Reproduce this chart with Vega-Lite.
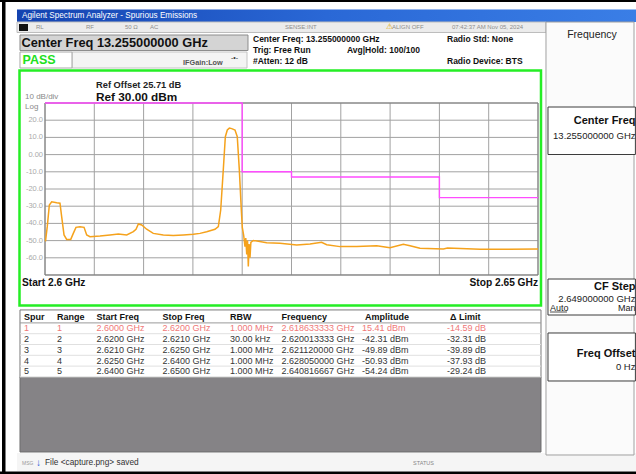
{
"$schema":"https://vega.github.io/schema/vega-lite/v6.json",
"width":636,"height":474,"autosize":{"type":"fit","contains":"padding"},"padding":0,
"background":"white",
"config":{"view":{"stroke":null},"axis":{"disable":true},"text":{"font":"Liberation Sans","align":"left","baseline":"middle"}},
"data":{"values":[{}]},
"datasets":{
"trace":[
{"f":2.60005,"v":-50.5},{"f":2.60023,"v":-41.9},{"f":2.60044,"v":-29.3},{"f":2.60068,"v":-27.4},{"f":2.60119,"v":-28.0},{"f":2.60152,"v":-28.3},{"f":2.60169,"v":-36.1},{"f":2.60193,"v":-46.7},{"f":2.6022,"v":-49.3},{"f":2.60261,"v":-49.3},{"f":2.60287,"v":-45.8},{"f":2.60314,"v":-42.3},{"f":2.60355,"v":-41.9},{"f":2.60396,"v":-42.3},{"f":2.60423,"v":-46.7},{"f":2.60456,"v":-47.7},{"f":2.60558,"v":-47.3},{"f":2.60659,"v":-46.7},{"f":2.60744,"v":-46.2},{"f":2.60829,"v":-46.7},{"f":2.60896,"v":-44.8},{"f":2.60923,"v":-43.4},{"f":2.60947,"v":-40.3},{"f":2.60981,"v":-40.9},{"f":2.61031,"v":-43.4},{"f":2.61098,"v":-45.8},{"f":2.612,"v":-46.7},{"f":2.61301,"v":-47.1},{"f":2.61403,"v":-46.7},{"f":2.61504,"v":-46.3},{"f":2.61572,"v":-45.8},{"f":2.6164,"v":-44.8},{"f":2.61724,"v":-43.4},{"f":2.61758,"v":-41.9},{"f":2.61782,"v":-32.2},{"f":2.61808,"v":-9.0},{"f":2.61829,"v":10.4},{"f":2.61849,"v":14.3},{"f":2.6187,"v":15.4},{"f":2.61894,"v":15.1},{"f":2.61927,"v":14.3},{"f":2.6195,"v":10.4},{"f":2.61971,"v":-9.0},{"f":2.61991,"v":-32.2},{"f":2.62001,"v":-42.3},{"f":2.62015,"v":-47.0},{"f":2.62028,"v":-53.5},{"f":2.62036,"v":-48.5},{"f":2.62046,"v":-58.0},{"f":2.62054,"v":-50.0},{"f":2.62062,"v":-65.0},{"f":2.6207,"v":-52.0},{"f":2.62079,"v":-60.0},{"f":2.62088,"v":-51.0},{"f":2.62112,"v":-49.9},{"f":2.62248,"v":-51.2},{"f":2.62383,"v":-51.6},{"f":2.62553,"v":-52.6},{"f":2.62688,"v":-52.0},{"f":2.62805,"v":-51.0},{"f":2.62857,"v":-52.4},{"f":2.62992,"v":-53.5},{"f":2.63161,"v":-53.5},{"f":2.63364,"v":-53.0},{"f":2.63499,"v":-54.1},{"f":2.63634,"v":-52.2},{"f":2.63702,"v":-53.0},{"f":2.63803,"v":-54.5},{"f":2.6404,"v":-54.9},{"f":2.64082,"v":-54.3},{"f":2.64412,"v":-55.1},{"f":2.647,"v":-55.0},{"f":2.65,"v":-54.9}
],
"spurs":[
{"spur":1,"range":1,"start":2.6,"stop":2.62,"rbw":"1.000 MHz","freq":2.618633333,"amp":15.41,"dlimit":-14.59,"limit":30},
{"spur":2,"range":2,"start":2.62,"stop":2.621,"rbw":"30.00 kHz","freq":2.620013333,"amp":-42.31,"dlimit":-32.31,"limit":-10},
{"spur":3,"range":3,"start":2.621,"stop":2.625,"rbw":"1.000 MHz","freq":2.62112,"amp":-49.89,"dlimit":-39.89,"limit":-10},
{"spur":4,"range":4,"start":2.625,"stop":2.64,"rbw":"1.000 MHz","freq":2.62805,"amp":-50.93,"dlimit":-37.93,"limit":-13},
{"spur":5,"range":5,"start":2.64,"stop":2.65,"rbw":"1.000 MHz","freq":2.640816667,"amp":-54.24,"dlimit":-29.24,"limit":-25}
],
"xgrid":[{"g":2.6},{"g":2.605},{"g":2.61},{"g":2.615},{"g":2.62},{"g":2.625},{"g":2.63},{"g":2.635},{"g":2.64},{"g":2.645},{"g":2.65}],
"ygrid":[{"v":30,"t":""},{"v":20,"t":"20.0"},{"v":10,"t":"10.0"},{"v":0,"t":"0.00"},{"v":-10,"t":"-10.0"},{"v":-20,"t":"-20.0"},{"v":-30,"t":"-30.0"},{"v":-40,"t":"-40.0"},{"v":-50,"t":"-50.0"},{"v":-60,"t":"-60.0"},{"v":-70,"t":""}]
},
"resolve":{"scale":{"y":"independent"}},
"layer":[
{"layer":[
{"mark":{"type":"rect","fill":"#000"},"encoding":{"x":{"datum":2.595639,"type":"quantitative","scale":{"domain":[2.595436,2.659939],"nice":false,"zero":false}},"x2":{"datum":2.595994},"y":{"datum":89.884,"type":"quantitative","scale":{"domain":[-185.698,89.884],"nice":false,"zero":false}},"y2":{"datum":-185.698}}},
{"mark":{"type":"rect","fill":"#000"},"encoding":{"x":{"datum":2.595436,"type":"quantitative","scale":{"domain":[2.595436,2.659939],"nice":false,"zero":false}},"x2":{"datum":2.659939},"y":{"datum":89.884,"type":"quantitative","scale":{"domain":[-185.698,89.884],"nice":false,"zero":false}},"y2":{"datum":88.721}}},
{"mark":{"type":"rect","fill":"#000"},"encoding":{"x":{"datum":2.595436,"type":"quantitative","scale":{"domain":[2.595436,2.659939],"nice":false,"zero":false}},"x2":{"datum":2.659939},"y":{"datum":-184.244,"type":"quantitative","scale":{"domain":[-185.698,89.884],"nice":false,"zero":false}},"y2":{"datum":-185.698}}},
{"mark":{"type":"rect","fill":{"gradient":"linear","x1":0,"y1":0,"x2":1,"y2":0,"stops":[{"offset":0,"color":"#1443b0"},{"offset":0.5,"color":"#2a68d6"},{"offset":1,"color":"#3a7ee6"}]}},"encoding":{"x":{"datum":2.59716,"type":"quantitative","scale":{"domain":[2.595436,2.659939],"nice":false,"zero":false}},"x2":{"datum":2.659939},"y":{"datum":84.361,"type":"quantitative","scale":{"domain":[-185.698,89.884],"nice":false,"zero":false}},"y2":{"datum":77.093}}},
{"mark":{"type":"rect","fill":"#ececec","stroke":"#bdbdbd","strokeWidth":1},"encoding":{"x":{"datum":2.59716,"type":"quantitative","scale":{"domain":[2.595436,2.659939],"nice":false,"zero":false}},"x2":{"datum":2.650811},"y":{"datum":77.093,"type":"quantitative","scale":{"domain":[-185.698,89.884],"nice":false,"zero":false}},"y2":{"datum":70.989}}},
{"mark":{"type":"rect","fill":"#111"},"encoding":{"x":{"datum":2.597363,"type":"quantitative","scale":{"domain":[2.595436,2.659939],"nice":false,"zero":false}},"x2":{"datum":2.598276},"y":{"datum":75.93,"type":"quantitative","scale":{"domain":[-185.698,89.884],"nice":false,"zero":false}},"y2":{"datum":71.861}}},
{"mark":{"type":"rect","fill":"#d4d4d4","stroke":"#8c8c8c","strokeWidth":1},"encoding":{"x":{"datum":2.597464,"type":"quantitative","scale":{"domain":[2.595436,2.659939],"nice":false,"zero":false}},"x2":{"datum":2.620588},"y":{"datum":69.535,"type":"quantitative","scale":{"domain":[-185.698,89.884],"nice":false,"zero":false}},"y2":{"datum":60.524}}},
{"mark":{"type":"rect","fill":"#f4f4f4","stroke":"#c4c4c4","strokeWidth":1},"encoding":{"x":{"datum":2.602738,"type":"quantitative","scale":{"domain":[2.595436,2.659939],"nice":false,"zero":false}},"x2":{"datum":2.620487},"y":{"datum":59.651,"type":"quantitative","scale":{"domain":[-185.698,89.884],"nice":false,"zero":false}},"y2":{"datum":50.349}}},
{"mark":{"type":"rect","fill":"#ffffff","stroke":"#a8a8a8","strokeWidth":1},"encoding":{"x":{"datum":2.597464,"type":"quantitative","scale":{"domain":[2.595436,2.659939],"nice":false,"zero":false}},"x2":{"datum":2.602738},"y":{"datum":59.651,"type":"quantitative","scale":{"domain":[-185.698,89.884],"nice":false,"zero":false}},"y2":{"datum":50.349}}},
{"mark":{"type":"rect","fill":"#ffffff","stroke":"#25ee25","strokeWidth":2.5},"encoding":{"x":{"datum":2.597414,"type":"quantitative","scale":{"domain":[2.595436,2.659939],"nice":false,"zero":false}},"x2":{"datum":2.650304},"y":{"datum":48.895,"type":"quantitative","scale":{"domain":[-185.698,89.884],"nice":false,"zero":false}},"y2":{"datum":-87.733}}},
{"mark":{"type":"rect","fill":"#858386","stroke":"#6d6d6d","strokeWidth":1},"encoding":{"x":{"datum":2.597464,"type":"quantitative","scale":{"domain":[2.595436,2.659939],"nice":false,"zero":false}},"x2":{"datum":2.650304},"y":{"datum":-129.302,"type":"quantitative","scale":{"domain":[-185.698,89.884],"nice":false,"zero":false}},"y2":{"datum":-172.907}}},
{"mark":{"type":"rect","fill":"#f5f5f5"},"encoding":{"x":{"datum":2.59716,"type":"quantitative","scale":{"domain":[2.595436,2.659939],"nice":false,"zero":false}},"x2":{"datum":2.659939},"y":{"datum":-173.488,"type":"quantitative","scale":{"domain":[-185.698,89.884],"nice":false,"zero":false}},"y2":{"datum":-183.953}}},
{"mark":{"type":"rect","fill":"#fbfbfb","stroke":"#a0a0a0","strokeWidth":1},"encoding":{"x":{"datum":2.650811,"type":"quantitative","scale":{"domain":[2.595436,2.659939],"nice":false,"zero":false}},"x2":{"datum":2.659737},"y":{"datum":77.093,"type":"quantitative","scale":{"domain":[-185.698,89.884],"nice":false,"zero":false}},"y2":{"datum":-174.651}}},
{"mark":{"type":"rect","fill":"#ffffff","stroke":"#3c3c3c","strokeWidth":1},"encoding":{"x":{"datum":2.651014,"type":"quantitative","scale":{"domain":[2.595436,2.659939],"nice":false,"zero":false}},"x2":{"datum":2.659878},"y":{"datum":27.674,"type":"quantitative","scale":{"domain":[-185.698,89.884],"nice":false,"zero":false}},"y2":{"datum":0.058}}},
{"mark":{"type":"rect","fill":"#ffffff","stroke":"#3c3c3c","strokeWidth":1},"encoding":{"x":{"datum":2.651014,"type":"quantitative","scale":{"domain":[2.595436,2.659939],"nice":false,"zero":false}},"x2":{"datum":2.659878},"y":{"datum":-72.326,"type":"quantitative","scale":{"domain":[-185.698,89.884],"nice":false,"zero":false}},"y2":{"datum":-93.256}}},
{"mark":{"type":"rect","fill":"#ffffff","stroke":"#3c3c3c","strokeWidth":1},"encoding":{"x":{"datum":2.651014,"type":"quantitative","scale":{"domain":[2.595436,2.659939],"nice":false,"zero":false}},"x2":{"datum":2.659878},"y":{"datum":-103.721,"type":"quantitative","scale":{"domain":[-185.698,89.884],"nice":false,"zero":false}},"y2":{"datum":-131.628}}},
{"data":{"name":"xgrid"},"mark":{"type":"rule","color":"#a2a2a2","strokeWidth":1},"encoding":{"x":{"field":"g","type":"quantitative","scale":{"domain":[2.595436,2.659939],"nice":false,"zero":false}},"y":{"datum":-70,"type":"quantitative","scale":{"domain":[-185.698,89.884],"nice":false,"zero":false}},"y2":{"datum":30}}},
{"data":{"name":"ygrid"},"mark":{"type":"rule","color":"#a2a2a2","strokeWidth":1},"encoding":{"y":{"field":"v","type":"quantitative","scale":{"domain":[-185.698,89.884],"nice":false,"zero":false}},"x":{"datum":2.6,"type":"quantitative","scale":{"domain":[2.595436,2.659939],"nice":false,"zero":false}},"x2":{"datum":2.65}}},
{"mark":{"type":"rect","fillOpacity":0,"stroke":"#7a7a7a","strokeWidth":1},"encoding":{"x":{"datum":2.6,"type":"quantitative","scale":{"domain":[2.595436,2.659939],"nice":false,"zero":false}},"x2":{"datum":2.65},"y":{"datum":30,"type":"quantitative","scale":{"domain":[-185.698,89.884],"nice":false,"zero":false}},"y2":{"datum":-70}}},
{"data":{"name":"ygrid"},"transform":[{"filter":"datum.t != ''"}],"mark":{"type":"text","align":"right","fontSize":7.5,"color":"#aaaaaa"},"encoding":{"y":{"field":"v","type":"quantitative","scale":{"domain":[-185.698,89.884],"nice":false,"zero":false}},"x":{"datum":2.599797,"type":"quantitative","scale":{"domain":[2.595436,2.659939],"nice":false,"zero":false}},"text":{"field":"t","type":"nominal"}}},
{"data":{"name":"spurs"},"transform":[{"fold":["start","stop"],"as":["edge","f"]}],"mark":{"type":"line","color":"#ff4cff","strokeWidth":1.4},"encoding":{"x":{"field":"f","type":"quantitative","scale":{"domain":[2.595436,2.659939],"nice":false,"zero":false}},"y":{"field":"limit","type":"quantitative","scale":{"domain":[-185.698,89.884],"nice":false,"zero":false}},"order":[{"field":"range","type":"quantitative"},{"field":"edge","type":"nominal"}]}},
{"data":{"name":"trace"},"mark":{"type":"line","color":"#f5a21c","strokeWidth":1.5},"encoding":{"x":{"field":"f","type":"quantitative","scale":{"domain":[2.595436,2.659939],"nice":false,"zero":false}},"y":{"field":"v","type":"quantitative","scale":{"domain":[-185.698,89.884],"nice":false,"zero":false}}}},
{"mark":{"type":"text","text":"Agilent Spectrum Analyzer - Spurious Emissions","fontSize":8.2,"color":"#ffffff"},"encoding":{"x":{"datum":2.597667,"type":"quantitative","scale":{"domain":[2.595436,2.659939],"nice":false,"zero":false}},"y":{"datum":80.582,"type":"quantitative","scale":{"domain":[-185.698,89.884],"nice":false,"zero":false}}}},
{"mark":{"type":"text","text":"RL","fontSize":6,"color":"#8d8d8d"},"encoding":{"x":{"datum":2.599087,"type":"quantitative","scale":{"domain":[2.595436,2.659939],"nice":false,"zero":false}},"y":{"datum":73.896,"type":"quantitative","scale":{"domain":[-185.698,89.884],"nice":false,"zero":false}}}},
{"mark":{"type":"text","text":"RF","fontSize":6,"color":"#8d8d8d"},"encoding":{"x":{"datum":2.604158,"type":"quantitative","scale":{"domain":[2.595436,2.659939],"nice":false,"zero":false}},"y":{"datum":73.896,"type":"quantitative","scale":{"domain":[-185.698,89.884],"nice":false,"zero":false}}}},
{"mark":{"type":"text","text":"50 Ω","fontSize":6,"color":"#8d8d8d"},"encoding":{"x":{"datum":2.608114,"type":"quantitative","scale":{"domain":[2.595436,2.659939],"nice":false,"zero":false}},"y":{"datum":73.896,"type":"quantitative","scale":{"domain":[-185.698,89.884],"nice":false,"zero":false}}}},
{"mark":{"type":"text","text":"AC","fontSize":6,"color":"#8d8d8d"},"encoding":{"x":{"datum":2.610649,"type":"quantitative","scale":{"domain":[2.595436,2.659939],"nice":false,"zero":false}},"y":{"datum":73.896,"type":"quantitative","scale":{"domain":[-185.698,89.884],"nice":false,"zero":false}}}},
{"mark":{"type":"text","text":"SENSE:INT","fontSize":6,"color":"#8d8d8d"},"encoding":{"x":{"datum":2.624341,"type":"quantitative","scale":{"domain":[2.595436,2.659939],"nice":false,"zero":false}},"y":{"datum":73.896,"type":"quantitative","scale":{"domain":[-185.698,89.884],"nice":false,"zero":false}}}},
{"mark":{"type":"text","text":"⚠","fontSize":8,"color":"#e0a800"},"encoding":{"x":{"datum":2.634584,"type":"quantitative","scale":{"domain":[2.595436,2.659939],"nice":false,"zero":false}},"y":{"datum":73.896,"type":"quantitative","scale":{"domain":[-185.698,89.884],"nice":false,"zero":false}}}},
{"mark":{"type":"text","text":"ALIGN OFF","fontSize":6,"color":"#8d8d8d"},"encoding":{"x":{"datum":2.635193,"type":"quantitative","scale":{"domain":[2.595436,2.659939],"nice":false,"zero":false}},"y":{"datum":73.896,"type":"quantitative","scale":{"domain":[-185.698,89.884],"nice":false,"zero":false}}}},
{"mark":{"type":"text","text":"07:42:37 AM Nov 05, 2024","fontSize":6,"color":"#8d8d8d"},"encoding":{"x":{"datum":2.641278,"type":"quantitative","scale":{"domain":[2.595436,2.659939],"nice":false,"zero":false}},"y":{"datum":73.896,"type":"quantitative","scale":{"domain":[-185.698,89.884],"nice":false,"zero":false}}}},
{"mark":{"type":"text","text":"Center Freq 13.255000000 GHz","fontSize":12.8,"fontWeight":"bold","color":"#111111"},"encoding":{"x":{"datum":2.597617,"type":"quantitative","scale":{"domain":[2.595436,2.659939],"nice":false,"zero":false}},"y":{"datum":64.884,"type":"quantitative","scale":{"domain":[-185.698,89.884],"nice":false,"zero":false}}}},
{"mark":{"type":"text","text":"PASS","fontSize":12.5,"fontWeight":"bold","color":"#21e021"},"encoding":{"x":{"datum":2.597718,"type":"quantitative","scale":{"domain":[2.595436,2.659939],"nice":false,"zero":false}},"y":{"datum":55.0,"type":"quantitative","scale":{"domain":[-185.698,89.884],"nice":false,"zero":false}}}},
{"mark":{"type":"text","text":"IFGain:Low","fontSize":7.3,"fontWeight":"bold","color":"#555555"},"encoding":{"x":{"datum":2.613996,"type":"quantitative","scale":{"domain":[2.595436,2.659939],"nice":false,"zero":false}},"y":{"datum":53.256,"type":"quantitative","scale":{"domain":[-185.698,89.884],"nice":false,"zero":false}}}},
{"mark":{"type":"text","text":"-•-","fontSize":7,"color":"#333333"},"encoding":{"x":{"datum":2.618864,"type":"quantitative","scale":{"domain":[2.595436,2.659939],"nice":false,"zero":false}},"y":{"datum":56.163,"type":"quantitative","scale":{"domain":[-185.698,89.884],"nice":false,"zero":false}}}},
{"mark":{"type":"text","text":"Center Freq: 13.255000000 GHz","fontSize":8.5,"fontWeight":"bold","color":"#111111"},"encoding":{"x":{"datum":2.621095,"type":"quantitative","scale":{"domain":[2.595436,2.659939],"nice":false,"zero":false}},"y":{"datum":67.209,"type":"quantitative","scale":{"domain":[-185.698,89.884],"nice":false,"zero":false}}}},
{"mark":{"type":"text","text":"Trig: Free Run","fontSize":8.5,"fontWeight":"bold","color":"#111111"},"encoding":{"x":{"datum":2.621095,"type":"quantitative","scale":{"domain":[2.595436,2.659939],"nice":false,"zero":false}},"y":{"datum":60.814,"type":"quantitative","scale":{"domain":[-185.698,89.884],"nice":false,"zero":false}}}},
{"mark":{"type":"text","text":"#Atten: 12 dB","fontSize":8.5,"fontWeight":"bold","color":"#111111"},"encoding":{"x":{"datum":2.621095,"type":"quantitative","scale":{"domain":[2.595436,2.659939],"nice":false,"zero":false}},"y":{"datum":54.419,"type":"quantitative","scale":{"domain":[-185.698,89.884],"nice":false,"zero":false}}}},
{"mark":{"type":"text","text":"Avg|Hold: 100/100","fontSize":8.5,"fontWeight":"bold","color":"#111111"},"encoding":{"x":{"datum":2.630629,"type":"quantitative","scale":{"domain":[2.595436,2.659939],"nice":false,"zero":false}},"y":{"datum":60.814,"type":"quantitative","scale":{"domain":[-185.698,89.884],"nice":false,"zero":false}}}},
{"mark":{"type":"text","text":"Radio Std: None","fontSize":8.5,"fontWeight":"bold","color":"#111111"},"encoding":{"x":{"datum":2.640771,"type":"quantitative","scale":{"domain":[2.595436,2.659939],"nice":false,"zero":false}},"y":{"datum":67.209,"type":"quantitative","scale":{"domain":[-185.698,89.884],"nice":false,"zero":false}}}},
{"mark":{"type":"text","text":"Radio Device: BTS","fontSize":8.5,"fontWeight":"bold","color":"#111111"},"encoding":{"x":{"datum":2.640771,"type":"quantitative","scale":{"domain":[2.595436,2.659939],"nice":false,"zero":false}},"y":{"datum":54.419,"type":"quantitative","scale":{"domain":[-185.698,89.884],"nice":false,"zero":false}}}},
{"mark":{"type":"text","text":"Ref Offset 25.71 dB","fontSize":9.3,"fontWeight":"bold","color":"#222222"},"encoding":{"x":{"datum":2.605172,"type":"quantitative","scale":{"domain":[2.595436,2.659939],"nice":false,"zero":false}},"y":{"datum":40.465,"type":"quantitative","scale":{"domain":[-185.698,89.884],"nice":false,"zero":false}}}},
{"mark":{"type":"text","text":"Ref 30.00 dBm","fontSize":11.8,"fontWeight":"bold","color":"#111111"},"encoding":{"x":{"datum":2.605172,"type":"quantitative","scale":{"domain":[2.595436,2.659939],"nice":false,"zero":false}},"y":{"datum":33.488,"type":"quantitative","scale":{"domain":[-185.698,89.884],"nice":false,"zero":false}}}},
{"mark":{"type":"text","text":"10 dB/div","fontSize":8,"color":"#8a8a8a"},"encoding":{"x":{"datum":2.597972,"type":"quantitative","scale":{"domain":[2.595436,2.659939],"nice":false,"zero":false}},"y":{"datum":33.198,"type":"quantitative","scale":{"domain":[-185.698,89.884],"nice":false,"zero":false}}}},
{"mark":{"type":"text","text":"Log","fontSize":8,"color":"#8a8a8a"},"encoding":{"x":{"datum":2.597972,"type":"quantitative","scale":{"domain":[2.595436,2.659939],"nice":false,"zero":false}},"y":{"datum":27.965,"type":"quantitative","scale":{"domain":[-185.698,89.884],"nice":false,"zero":false}}}},
{"mark":{"type":"text","text":"Start 2.6 GHz","fontSize":10.2,"fontWeight":"bold","color":"#111111"},"encoding":{"x":{"datum":2.597667,"type":"quantitative","scale":{"domain":[2.595436,2.659939],"nice":false,"zero":false}},"y":{"datum":-74.651,"type":"quantitative","scale":{"domain":[-185.698,89.884],"nice":false,"zero":false}}}},
{"mark":{"type":"text","text":"Stop 2.65 GHz","align":"right","fontSize":10.2,"fontWeight":"bold","color":"#111111"},"encoding":{"x":{"datum":2.65,"type":"quantitative","scale":{"domain":[2.595436,2.659939],"nice":false,"zero":false}},"y":{"datum":-74.651,"type":"quantitative","scale":{"domain":[-185.698,89.884],"nice":false,"zero":false}}}},
{"mark":{"type":"text","text":"MSG","fontSize":5,"color":"#999999"},"encoding":{"x":{"datum":2.597667,"type":"quantitative","scale":{"domain":[2.595436,2.659939],"nice":false,"zero":false}},"y":{"datum":-179.302,"type":"quantitative","scale":{"domain":[-185.698,89.884],"nice":false,"zero":false}}}},
{"mark":{"type":"text","text":"↓","fontSize":10,"fontWeight":"bold","color":"#2d62d8"},"encoding":{"x":{"datum":2.599087,"type":"quantitative","scale":{"domain":[2.595436,2.659939],"nice":false,"zero":false}},"y":{"datum":-179.302,"type":"quantitative","scale":{"domain":[-185.698,89.884],"nice":false,"zero":false}}}},
{"mark":{"type":"text","text":"File <capture.png> saved","fontSize":8.3,"color":"#333333"},"encoding":{"x":{"datum":2.6,"type":"quantitative","scale":{"domain":[2.595436,2.659939],"nice":false,"zero":false}},"y":{"datum":-179.302,"type":"quantitative","scale":{"domain":[-185.698,89.884],"nice":false,"zero":false}}}},
{"mark":{"type":"text","text":"STATUS","fontSize":5.5,"color":"#888888"},"encoding":{"x":{"datum":2.637323,"type":"quantitative","scale":{"domain":[2.595436,2.659939],"nice":false,"zero":false}},"y":{"datum":-179.302,"type":"quantitative","scale":{"domain":[-185.698,89.884],"nice":false,"zero":false}}}},
{"mark":{"type":"text","text":"Frequency","align":"center","fontSize":10.5,"color":"#222222"},"encoding":{"x":{"datum":2.655477,"type":"quantitative","scale":{"domain":[2.595436,2.659939],"nice":false,"zero":false}},"y":{"datum":69.535,"type":"quantitative","scale":{"domain":[-185.698,89.884],"nice":false,"zero":false}}}},
{"mark":{"type":"text","text":"Center Freq","align":"right","fontSize":11,"fontWeight":"bold","color":"#111111"},"encoding":{"x":{"datum":2.659888,"type":"quantitative","scale":{"domain":[2.595436,2.659939],"nice":false,"zero":false}},"y":{"datum":19.535,"type":"quantitative","scale":{"domain":[-185.698,89.884],"nice":false,"zero":false}}}},
{"mark":{"type":"text","text":"13.255000000 GHz","align":"right","fontSize":9.5,"color":"#222222"},"encoding":{"x":{"datum":2.659888,"type":"quantitative","scale":{"domain":[2.595436,2.659939],"nice":false,"zero":false}},"y":{"datum":10.814,"type":"quantitative","scale":{"domain":[-185.698,89.884],"nice":false,"zero":false}}}},
{"mark":{"type":"text","text":"CF Step","align":"right","fontSize":11,"fontWeight":"bold","color":"#111111"},"encoding":{"x":{"datum":2.659888,"type":"quantitative","scale":{"domain":[2.595436,2.659939],"nice":false,"zero":false}},"y":{"datum":-76.976,"type":"quantitative","scale":{"domain":[-185.698,89.884],"nice":false,"zero":false}}}},
{"mark":{"type":"text","text":"2.649000000 GHz","align":"right","fontSize":9.5,"color":"#222222"},"encoding":{"x":{"datum":2.659888,"type":"quantitative","scale":{"domain":[2.595436,2.659939],"nice":false,"zero":false}},"y":{"datum":-83.953,"type":"quantitative","scale":{"domain":[-185.698,89.884],"nice":false,"zero":false}}}},
{"mark":{"type":"text","text":"Auto","fontSize":9,"color":"#222222"},"encoding":{"x":{"datum":2.651217,"type":"quantitative","scale":{"domain":[2.595436,2.659939],"nice":false,"zero":false}},"y":{"datum":-89.186,"type":"quantitative","scale":{"domain":[-185.698,89.884],"nice":false,"zero":false}}}},
{"mark":{"type":"rule","color":"#222222","strokeWidth":0.8},"encoding":{"x":{"datum":2.651217,"type":"quantitative","scale":{"domain":[2.595436,2.659939],"nice":false,"zero":false}},"x2":{"datum":2.652941},"y":{"datum":-91.512,"type":"quantitative","scale":{"domain":[-185.698,89.884],"nice":false,"zero":false}}}},
{"mark":{"type":"text","text":"Man","align":"right","fontSize":9,"color":"#222222"},"encoding":{"x":{"datum":2.659888,"type":"quantitative","scale":{"domain":[2.595436,2.659939],"nice":false,"zero":false}},"y":{"datum":-89.186,"type":"quantitative","scale":{"domain":[-185.698,89.884],"nice":false,"zero":false}}}},
{"mark":{"type":"text","text":"Freq Offset","align":"right","fontSize":11,"fontWeight":"bold","color":"#111111"},"encoding":{"x":{"datum":2.659888,"type":"quantitative","scale":{"domain":[2.595436,2.659939],"nice":false,"zero":false}},"y":{"datum":-115.93,"type":"quantitative","scale":{"domain":[-185.698,89.884],"nice":false,"zero":false}}}},
{"mark":{"type":"text","text":"0 Hz","align":"right","fontSize":9.5,"color":"#222222"},"encoding":{"x":{"datum":2.659888,"type":"quantitative","scale":{"domain":[2.595436,2.659939],"nice":false,"zero":false}},"y":{"datum":-123.488,"type":"quantitative","scale":{"domain":[-185.698,89.884],"nice":false,"zero":false}}}}
]},
{"data":{"name":"spurs"},
 "transform":[
  {"calculate":"format(datum.start, '.4f') + ' GHz'","as":"sLabel"},
  {"calculate":"format(datum.stop, '.4f') + ' GHz'","as":"eLabel"},
  {"calculate":"format(datum.freq, '.9f') + ' GHz'","as":"fLabel"},
  {"calculate":"(datum.amp < 0 ? '-' : '') + format(abs(datum.amp), '.2f') + ' dBm'","as":"aLabel"},
  {"calculate":"(datum.dlimit < 0 ? '-' : '') + format(abs(datum.dlimit), '.2f') + ' dB'","as":"dLabel"}
 ],
 "layer":[
{"data":{"values":[{}]},"mark":{"type":"rect","fill":"#ffffff","stroke":"#7a7a7a","strokeWidth":1},"encoding":{"x":{"datum":2.597464,"type":"quantitative","scale":{"domain":[2.595436,2.659939],"nice":false,"zero":false}},"x2":{"datum":2.650304},"y":{"datum":-0.7,"type":"quantitative","scale":{"domain":[-29.398,14.491],"reverse":true,"nice":false,"zero":false}},"y2":{"datum":5.55}}},
{"data":{"values":[{}]},"mark":{"type":"rule","color":"#9a9a9a","strokeWidth":1},"encoding":{"x":{"datum":2.597464,"type":"quantitative","scale":{"domain":[2.595436,2.659939],"nice":false,"zero":false}},"x2":{"datum":2.650304},"y":{"datum":0.5,"type":"quantitative","scale":{"domain":[-29.398,14.491],"reverse":true,"nice":false,"zero":false}}}},
{"mark":{"type":"rule","color":"#e0e0e0","strokeWidth":1,"yOffset":5.4},"encoding":{"x":{"datum":2.597464,"type":"quantitative","scale":{"domain":[2.595436,2.659939],"nice":false,"zero":false}},"x2":{"datum":2.650304},"y":{"field":"spur","type":"quantitative","scale":{"domain":[-29.398,14.491],"reverse":true,"nice":false,"zero":false}}}},
{"data":{"values":[{}]},"mark":{"type":"text","text":"Spur","fontSize":9,"fontWeight":"bold","color":"#111111"},"encoding":{"x":{"datum":2.59787,"type":"quantitative","scale":{"domain":[2.595436,2.659939],"nice":false,"zero":false}},"y":{"datum":0,"type":"quantitative","scale":{"domain":[-29.398,14.491],"reverse":true,"nice":false,"zero":false}}}},
{"data":{"values":[{}]},"mark":{"type":"text","text":"Range","fontSize":9,"fontWeight":"bold","color":"#111111"},"encoding":{"x":{"datum":2.601217,"type":"quantitative","scale":{"domain":[2.595436,2.659939],"nice":false,"zero":false}},"y":{"datum":0,"type":"quantitative","scale":{"domain":[-29.398,14.491],"reverse":true,"nice":false,"zero":false}}}},
{"data":{"values":[{}]},"mark":{"type":"text","text":"Start Freq","fontSize":9,"fontWeight":"bold","color":"#111111"},"encoding":{"x":{"datum":2.605223,"type":"quantitative","scale":{"domain":[2.595436,2.659939],"nice":false,"zero":false}},"y":{"datum":0,"type":"quantitative","scale":{"domain":[-29.398,14.491],"reverse":true,"nice":false,"zero":false}}}},
{"data":{"values":[{}]},"mark":{"type":"text","text":"Stop Freq","fontSize":9,"fontWeight":"bold","color":"#111111"},"encoding":{"x":{"datum":2.611917,"type":"quantitative","scale":{"domain":[2.595436,2.659939],"nice":false,"zero":false}},"y":{"datum":0,"type":"quantitative","scale":{"domain":[-29.398,14.491],"reverse":true,"nice":false,"zero":false}}}},
{"data":{"values":[{}]},"mark":{"type":"text","text":"RBW","fontSize":9,"fontWeight":"bold","color":"#111111"},"encoding":{"x":{"datum":2.618763,"type":"quantitative","scale":{"domain":[2.595436,2.659939],"nice":false,"zero":false}},"y":{"datum":0,"type":"quantitative","scale":{"domain":[-29.398,14.491],"reverse":true,"nice":false,"zero":false}}}},
{"data":{"values":[{}]},"mark":{"type":"text","text":"Frequency","fontSize":9,"fontWeight":"bold","color":"#111111"},"encoding":{"x":{"datum":2.623986,"type":"quantitative","scale":{"domain":[2.595436,2.659939],"nice":false,"zero":false}},"y":{"datum":0,"type":"quantitative","scale":{"domain":[-29.398,14.491],"reverse":true,"nice":false,"zero":false}}}},
{"data":{"values":[{}]},"mark":{"type":"text","text":"Amplitude","fontSize":9,"fontWeight":"bold","color":"#111111"},"encoding":{"x":{"datum":2.632454,"type":"quantitative","scale":{"domain":[2.595436,2.659939],"nice":false,"zero":false}},"y":{"datum":0,"type":"quantitative","scale":{"domain":[-29.398,14.491],"reverse":true,"nice":false,"zero":false}}}},
{"data":{"values":[{}]},"mark":{"type":"text","text":"Δ Limit","fontSize":9,"fontWeight":"bold","color":"#111111"},"encoding":{"x":{"datum":2.641075,"type":"quantitative","scale":{"domain":[2.595436,2.659939],"nice":false,"zero":false}},"y":{"datum":0,"type":"quantitative","scale":{"domain":[-29.398,14.491],"reverse":true,"nice":false,"zero":false}}}},
{"mark":{"type":"text","fontSize":9},"encoding":{"x":{"datum":2.59787,"type":"quantitative","scale":{"domain":[2.595436,2.659939],"nice":false,"zero":false}},"y":{"field":"spur","type":"quantitative","scale":{"domain":[-29.398,14.491],"reverse":true,"nice":false,"zero":false}},"text":{"field":"spur","type":"nominal"},"color":{"condition":{"test":"datum.spur === 1","value":"#f07878"},"value":"#353535"}}},
{"mark":{"type":"text","fontSize":9},"encoding":{"x":{"datum":2.601217,"type":"quantitative","scale":{"domain":[2.595436,2.659939],"nice":false,"zero":false}},"y":{"field":"spur","type":"quantitative","scale":{"domain":[-29.398,14.491],"reverse":true,"nice":false,"zero":false}},"text":{"field":"range","type":"nominal"},"color":{"condition":{"test":"datum.spur === 1","value":"#f07878"},"value":"#353535"}}},
{"mark":{"type":"text","fontSize":9},"encoding":{"x":{"datum":2.605223,"type":"quantitative","scale":{"domain":[2.595436,2.659939],"nice":false,"zero":false}},"y":{"field":"spur","type":"quantitative","scale":{"domain":[-29.398,14.491],"reverse":true,"nice":false,"zero":false}},"text":{"field":"sLabel","type":"nominal"},"color":{"condition":{"test":"datum.spur === 1","value":"#f07878"},"value":"#353535"}}},
{"mark":{"type":"text","fontSize":9},"encoding":{"x":{"datum":2.611917,"type":"quantitative","scale":{"domain":[2.595436,2.659939],"nice":false,"zero":false}},"y":{"field":"spur","type":"quantitative","scale":{"domain":[-29.398,14.491],"reverse":true,"nice":false,"zero":false}},"text":{"field":"eLabel","type":"nominal"},"color":{"condition":{"test":"datum.spur === 1","value":"#f07878"},"value":"#353535"}}},
{"mark":{"type":"text","fontSize":9},"encoding":{"x":{"datum":2.618763,"type":"quantitative","scale":{"domain":[2.595436,2.659939],"nice":false,"zero":false}},"y":{"field":"spur","type":"quantitative","scale":{"domain":[-29.398,14.491],"reverse":true,"nice":false,"zero":false}},"text":{"field":"rbw","type":"nominal"},"color":{"condition":{"test":"datum.spur === 1","value":"#f07878"},"value":"#353535"}}},
{"mark":{"type":"text","fontSize":9},"encoding":{"x":{"datum":2.623986,"type":"quantitative","scale":{"domain":[2.595436,2.659939],"nice":false,"zero":false}},"y":{"field":"spur","type":"quantitative","scale":{"domain":[-29.398,14.491],"reverse":true,"nice":false,"zero":false}},"text":{"field":"fLabel","type":"nominal"},"color":{"condition":{"test":"datum.spur === 1","value":"#f07878"},"value":"#353535"}}},
{"mark":{"type":"text","fontSize":9},"encoding":{"x":{"datum":2.63215,"type":"quantitative","scale":{"domain":[2.595436,2.659939],"nice":false,"zero":false}},"y":{"field":"spur","type":"quantitative","scale":{"domain":[-29.398,14.491],"reverse":true,"nice":false,"zero":false}},"text":{"field":"aLabel","type":"nominal"},"color":{"condition":{"test":"datum.spur === 1","value":"#f07878"},"value":"#353535"}}},
{"mark":{"type":"text","fontSize":9},"encoding":{"x":{"datum":2.640771,"type":"quantitative","scale":{"domain":[2.595436,2.659939],"nice":false,"zero":false}},"y":{"field":"spur","type":"quantitative","scale":{"domain":[-29.398,14.491],"reverse":true,"nice":false,"zero":false}},"text":{"field":"dLabel","type":"nominal"},"color":{"condition":{"test":"datum.spur === 1","value":"#f07878"},"value":"#353535"}}}
 ]}
]
}
